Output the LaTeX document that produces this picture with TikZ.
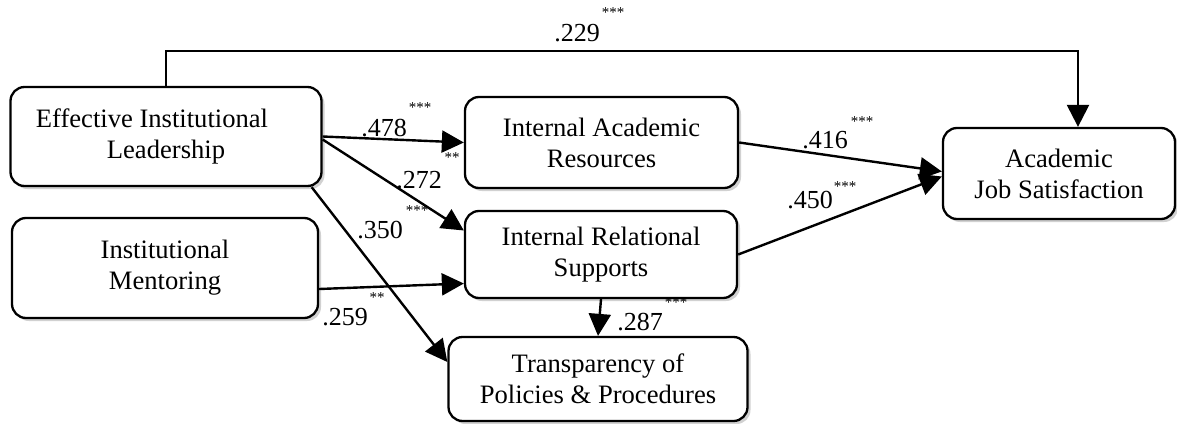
\documentclass[tikz,border=0pt]{standalone}
\usepackage{fontspec}
\setmainfont{Liberation Serif}
\usetikzlibrary{arrows.meta,shadows,calc}
\tikzset{
  box/.style={draw, line width=2.3pt, rounded corners=14pt, align=center, fill=white,
    font=\fontsize{26.6}{31}\selectfont,
    drop shadow={shadow xshift=3pt, shadow yshift=-3pt, opacity=0.18, fill=black}},
  conn/.style={line width=2.4pt},
  arr/.style={conn, -{Triangle[length=22pt,width=22pt]}},
  coef/.style={inner sep=0pt, font=\fontsize{26}{26}\selectfont},
  sig/.style={inner sep=0pt, font=\fontsize{15}{15}\selectfont},
}
\begin{document}
\begin{tikzpicture}[x=1pt,y=-1pt]
\useasboundingbox (0,0) rectangle (1177,423);
% boxes
\node[box, minimum width=311pt, minimum height=99pt] (EIL) at (166,136.5) {Effective Institutional\hspace*{28pt}\\Leadership};
\node[box, minimum width=306pt, minimum height=100pt] (IM) at (165,268) {Institutional\\Mentoring};
\node[box, minimum width=273pt, minimum height=91pt] (IAR) at (601.5,142.5) {Internal Academic\\Resources};
\node[box, minimum width=272pt, minimum height=87pt] (IRS) at (601,254.5) {Internal Relational\\Supports};
\node[box, minimum width=299pt, minimum height=84pt] (TPP) at (598,379) {Transparency of\\Policies \& Procedures};
\node[box, minimum width=232pt, minimum height=91pt] (AJS) at (1059,173.5) {Academic\\Job Satisfaction};
% top connector
\coordinate (t1) at (166,51);
\coordinate (t2) at (1078,51);
\draw[arr] (EIL.north) -- (t1) -- (t2) -- (t2 |- AJS.north);
% arrows
\draw[arr] (EIL.east) -- (IAR.west);
\draw[arr] ($(EIL.east)+(0,3)$) -- ($(IRS.west)+(0,-24)$);
\draw[arr] ($(EIL.south east)+(-11,0)$) -- ($(TPP.west)+(0,-17)$);
\draw[arr] ($(IM.east)+(0,21)$) -- ($(IRS.west)+(0,29)$);
\draw[arr] (IRS.south) -- (TPP.north);
\draw[arr] (IAR.east) -- ($(AJS.west)+(0,-2)$);
\draw[arr] (IRS.east) -- ($(AJS.west)+(0,3)$);
% coefficients
\node[coef] (c229) at (577,33) {.229};
\node[sig]  (s229) at (613,13) {***};
\node[coef] (c478) at (384,128) {.478};
\node[sig]  (s478) at (420,108) {***};
\node[coef] (c272) at (419,180) {.272};
\node[sig]  (s272) at (452,158) {**};
\node[coef] (c350) at (380,230) {.350};
\node[sig]  (s350) at (417,211) {***};
\node[coef] (c259) at (345,317) {.259};
\node[sig]  (s259) at (377,298) {**};
\node[coef] (c287) at (640,322) {.287};
\node[sig]  (s287) at (676,303) {***};
\node[coef] (c416) at (825,140) {.416};
\node[sig]  (s416) at (862,122) {***};
\node[coef] (c450) at (810,200) {.450};
\node[sig]  (s450) at (845,187) {***};
\end{tikzpicture}
\end{document}
